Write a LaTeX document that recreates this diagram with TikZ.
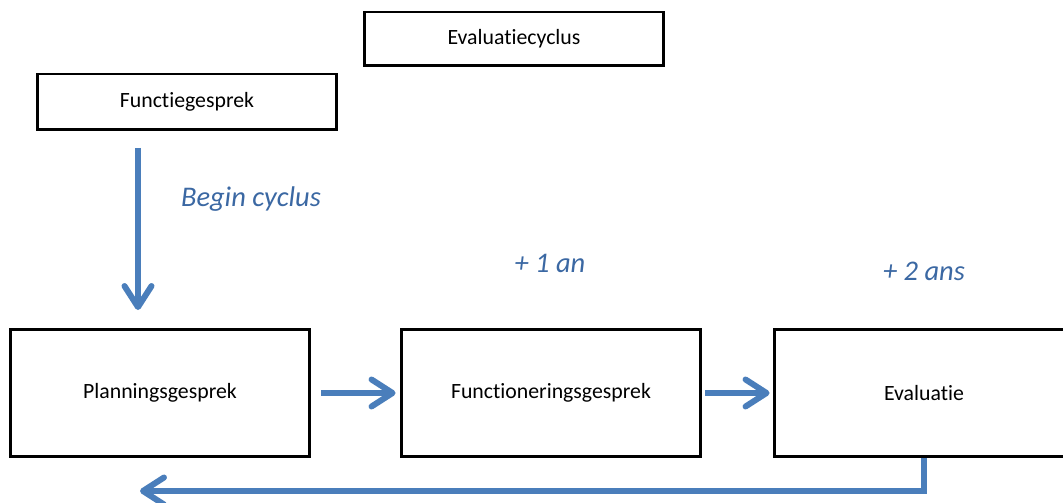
\documentclass[tikz,border=0pt]{standalone}
\usepackage{fontspec}
\setmainfont{Carlito}[Ligatures=NoCommon]
\usepackage{xcolor}
\usepackage{tikz}
\usetikzlibrary{arrows.meta}

\definecolor{flowblue}{HTML}{4A7EBB}
\definecolor{noteblue}{HTML}{3B68A3}

\tikzset{
    box/.style={draw, line width=1.7pt, minimum width=6cm, font=\fontsize{12.4}{14}\selectfont},
    flow/.style={draw=flowblue, line width=3.4pt, -{Straight Barb[round, length=4.2mm, width=5.4mm]}},
    note/.style={text=noteblue, font=\fontsize{16.2}{19}\selectfont\itshape}
}

\begin{document}
\begin{tikzpicture}[x=0.02cm, y=-0.02cm]

        \useasboundingbox (0,0) rectangle (1063,503);
        \clip (0,0) rectangle (1063,503);

        % ---------- Top boxes ----------
        \node[box, minimum height=1.08cm] (CycleTitle) at (514,39) {Evaluatiecyclus};
        \node[box, minimum height=1.12cm] (FunctieBox) at (187,102) {Functiegesprek};

        % ---------- Cycle boxes ----------
        \node[box, minimum height=2.54cm] (PlanBox) at (160,393) {Planningsgesprek};
        \node[box, minimum height=2.54cm] (FuncBox) at (551,393) {Functioneringsgesprek};
        \node[box, minimum height=2.56cm] (EvalBox) at (924,393) {Evaluatie};

        % begin arrow
        \coordinate (BeginTop) at (138,148);
        \draw[flow, shorten >=0.36cm] (BeginTop) -- (BeginTop |- PlanBox.north);
        \node[note] (BeginLabel) at (251,199) {Begin cyclus};

        % arrows between the boxes
        \draw[flow, shorten <=0.2cm, shorten >=0.08cm] (PlanBox.east) -- (FuncBox.west);
        \draw[flow, shorten <=0.06cm, shorten >=0.06cm] (FuncBox.east) -- (EvalBox.west);

        % year labels
        \node[note] (OneYear) at (550,263) {+ 1 an};
        \node[note] (TwoYears) at (924,271) {+ 2 ans};

        % return arrow
        \coordinate (ReturnEnd) at (140,491);
        \draw[flow] (EvalBox.south) |- (ReturnEnd);

\end{tikzpicture}
\end{document}
